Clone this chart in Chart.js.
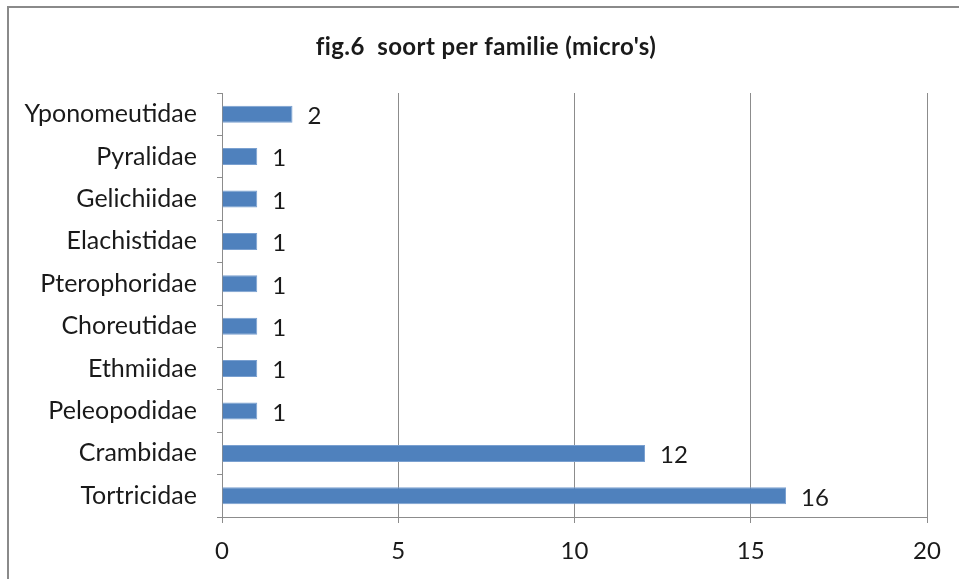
<!DOCTYPE html>
<html>
<head>
<meta charset="utf-8">
<script src="https://cdn.jsdelivr.net/npm/chart.js@4.4.1/dist/chart.umd.min.js"></script>
<style>
    html, body { margin: 0; padding: 0; background: #fff; }
    #wrap { position: relative; width: 959px; height: 579px; overflow: hidden; }
    #frame { position: absolute; left: 7px; top: 6px; width: 980px; height: 600px; border-left: 2px solid #8a8a8a; border-top: 2px solid #8a8a8a; }
    canvas { position: absolute; left: 0; top: 0; }
</style>
</head>
<body>
<div id="wrap">
    <div id="frame"></div>
    <canvas id="chartBarHorizontal" width="959" height="579"></canvas>
</div>
<script>
const titulo = "fig.6  soort per familie (micro's)";
const familias = ['Yponomeutidae', 'Pyralidae', 'Gelichiidae', 'Elachistidae', 'Pterophoridae', 'Choreutidae', 'Ethmiidae', 'Peleopodidae', 'Crambidae', 'Tortricidae'];
const soorten = [2, 1, 1, 1, 1, 1, 1, 1, 12, 16];
const eixoX = { min: 0, max: 20, passo: 5 };

const fonte = 'Lato, Carlito, "Open Sans", sans-serif';

// rotulos no fim das barras + titulo
const rotulosPlugin = {
    id: 'rotulos',
    afterDatasetsDraw(chart) {
        const ctx = chart.ctx;
        ctx.save();
        ctx.fillStyle = '#1a1a1a';
        ctx.font = '24px ' + fonte;
        ctx.textAlign = 'left';
        ctx.textBaseline = 'middle';
        chart.getDatasetMeta(0).data.forEach((bar, i) => {
            ctx.fillText(soorten[i], bar.x + 15, bar.y + 2);
        });
        ctx.font = 'bold 24px ' + fonte;
        ctx.letterSpacing = '0.4px'; // sem ligadura "fi"
        ctx.textAlign = 'center';
        ctx.fillText(titulo, 486, 47);
        ctx.restore();
    }
};

const ctxBar = document.getElementById('chartBarHorizontal');
new Chart(ctxBar, {
    type: 'bar',
    data: {
        labels: familias,
        datasets: [{
            label: 'soort',
            data: soorten,
            backgroundColor: '#4f81bd',
            borderColor: '#7aa0d0',
            borderWidth: 1,
            barPercentage: 0.4,
            categoryPercentage: 1
        }]
    },
    options: {
        indexAxis: 'y',
        responsive: false,
        animation: false,
        layout: { padding: { top: 93, right: 32, left: 0, bottom: 0 } },
        plugins: {
            legend: { display: false },
            title: { display: false },
            tooltip: { enabled: false }
        },
        scales: {
            x: {
                min: eixoX.min,
                max: eixoX.max,
                ticks: { stepSize: eixoX.passo, color: '#1a1a1a', padding: 14, font: { family: fonte, size: 24 } },
                grid: { color: '#8c8c8c', tickLength: 6, lineWidth: 1 },
                border: { color: '#8c8c8c' },
                afterFit: (scale) => { scale.height = 62; }
            },
            y: {
                ticks: { color: '#1a1a1a', padding: 20, font: { family: fonte, size: 25 } },
                grid: { drawOnChartArea: false, color: '#8c8c8c', tickLength: 5, offset: true },
                border: { color: '#8c8c8c' },
                afterFit: (scale) => { scale.width = 222; }
            }
        }
    },
    plugins: [rotulosPlugin]
});
</script>
</body>
</html>
